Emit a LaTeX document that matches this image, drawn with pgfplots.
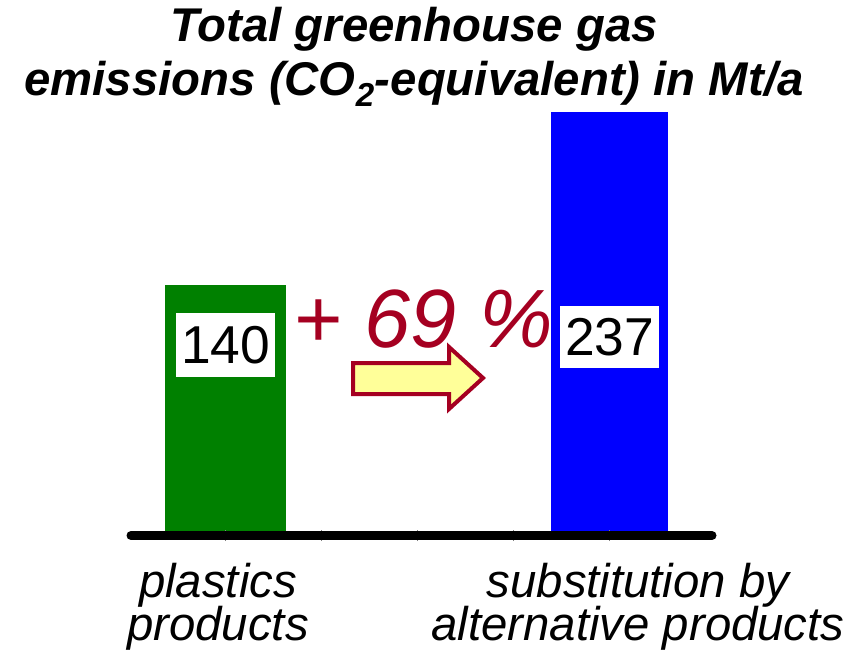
\documentclass[border=0pt]{standalone}
\usepackage{pgfplots}
\pgfplotsset{compat=1.18}
\usepackage{fontspec}
\setmainfont{Liberation Sans}
\definecolor{plgreen}{RGB}{0,128,0}
\definecolor{plblue}{RGB}{0,0,255}
\definecolor{plred}{RGB}{165,0,33}
\definecolor{plyellow}{RGB}{255,255,153}
\begin{document}
\begin{tikzpicture}
\begin{scope}[x=0.75pt,y=-0.75pt]
\useasboundingbox (0,0) rectangle (860,657);
\end{scope}
\begin{axis}[
  at={(98.25pt,-401.625pt)}, anchor=south west,
  scale only axis, width=435.75pt, height=401.85pt,
  xmin=-0.984375, xmax=5.0677, ymin=0, ymax=300,
  axis x line=bottom, axis y line=none,
  x axis line style={-, line width=6.75pt, line cap=round, black},
  xtick={0,1,2,3,4}, xticklabels={,,,,},
  ytick=\empty,
  tick align=center, major tick length=8.5pt,
  tick style={gray, line width=0.8pt},
  axis on top, clip=false,
]
\addplot[ybar, bar width=90.75pt, bar shift=0pt, fill=plgreen, draw=none] coordinates {(0,140)};
\addplot[ybar, bar width=87.75pt, bar shift=0pt, fill=plblue, draw=none] coordinates {(4,237)};
\end{axis}
\begin{scope}[x=0.75pt,y=-0.75pt]
% title
\node[anchor=base, inner sep=0pt, font=\fontsize{35.5}{40}\selectfont\bfseries\itshape] at (414,41) {Total greenhouse gas};
\node[anchor=base, inner sep=0pt, font=\fontsize{35.5}{40}\selectfont\bfseries\itshape] at (414,95) {emissions (CO\textsubscript{2}-equivalent) in Mt/a};
% value labels
\node[fill=white, inner sep=0pt, minimum width=74.25pt, minimum height=48pt, font=\fontsize{40}{44}\selectfont] at (225.5,345) {140};
\node[fill=white, inner sep=0pt, minimum width=74.25pt, minimum height=46.5pt, font=\fontsize{40}{44}\selectfont] at (609.5,337) {237};
% arrow
\draw[plred, line width=3pt, fill=plyellow, line join=miter]
  (353,363) -- (449,363) -- (449,347) -- (483,378) -- (449,409) -- (449,394) -- (353,394) -- cycle;
% +69%
\node[anchor=base west, inner sep=0pt, text=plred, font=\fontsize{62}{66}\selectfont\itshape] at (293,347) {+ 69 \%};
% category labels
\node[anchor=base, inner sep=0pt, font=\fontsize{35.5}{40}\selectfont\itshape] at (218,597) {plastics};
\node[anchor=base, inner sep=0pt, font=\fontsize{35.5}{40}\selectfont\itshape] at (218,640) {products};
\node[anchor=base, inner sep=0pt, font=\fontsize{35.5}{40}\selectfont\itshape] at (638,597) {substitution by};
\node[anchor=base, inner sep=0pt, font=\fontsize{35.5}{40}\selectfont\itshape] at (638,640) {alternative products};
\end{scope}
\end{tikzpicture}
\end{document}
